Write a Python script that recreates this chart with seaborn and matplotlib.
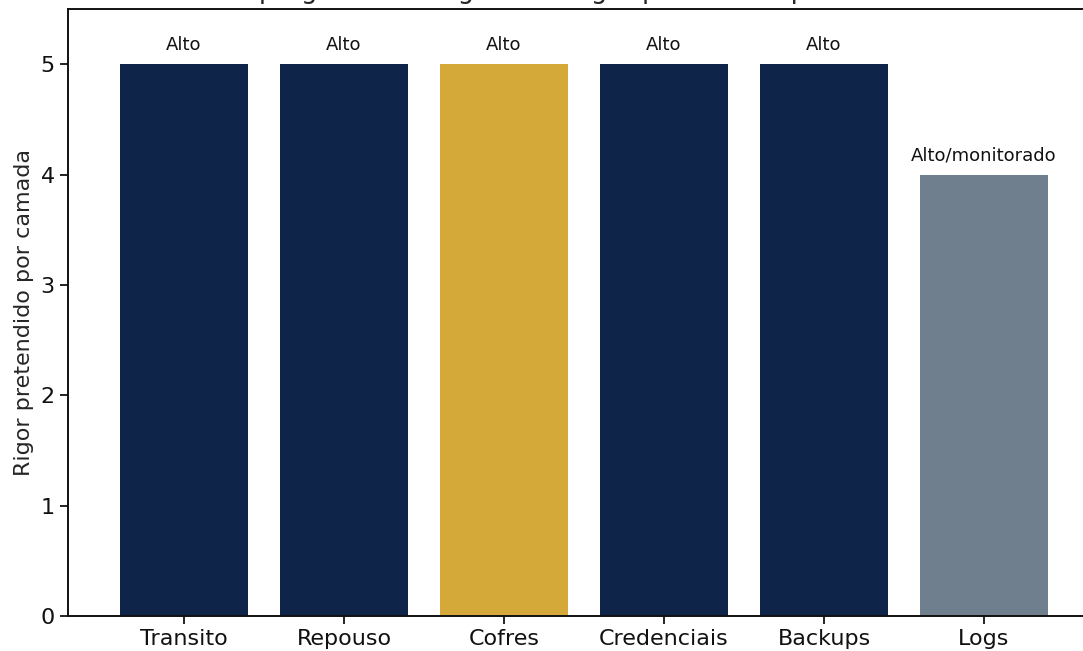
import matplotlib
matplotlib.use("Agg")
import matplotlib.pyplot as plt
import seaborn as sns
import pandas as pd

categorias = ["Transito", "Repouso", "Cofres", "Credenciais", "Backups", "Logs"]
rigor = [5, 5, 5, 5, 5, 4]
rotulos = ["Alto", "Alto", "Alto", "Alto", "Alto", "Alto/monitorado"]
cores = ["#0e2448", "#0e2448", "#d5a83a", "#0e2448", "#0e2448", "#6f7f8e"]
titulo = "Criptografia e integridade: rigor pretendido por camada"

df = pd.DataFrame({"camada": categorias, "rigor": rigor})

sns.set_style("ticks")
plt.rcParams["font.family"] = ["DejaVu Sans"]

fig = plt.figure(figsize=(10.83, 6.51), dpi=100)
ax = fig.add_axes([68 / 1083, 35 / 651, 1032 / 1083, 607 / 651])

sns.barplot(data=df, x="camada", y="rigor", hue="camada",
            palette=dict(zip(categorias, cores)), legend=False,
            width=0.8, saturation=1, linewidth=0, ax=ax)

for cont, lab in zip(ax.containers, rotulos):
    ax.bar_label(cont, labels=[lab], padding=7, fontsize=13, color="#111111")

ax.set_ylim(0, 5.5)
ax.set_xlim(-0.725, 5.725)
ax.set_yticks([0, 1, 2, 3, 4, 5])
ax.set_xlabel("")
ax.set_ylabel("Rigor pretendido por camada", fontsize=16, labelpad=5)
ax.tick_params(axis="both", labelsize=16, length=6, width=1.3, colors="#111111")
for s in ax.spines.values():
    s.set_linewidth(1.4)
    s.set_color("#111111")
ax.set_title(titulo, fontsize=18.5, pad=8)

fig.savefig("out.png", dpi=100)
